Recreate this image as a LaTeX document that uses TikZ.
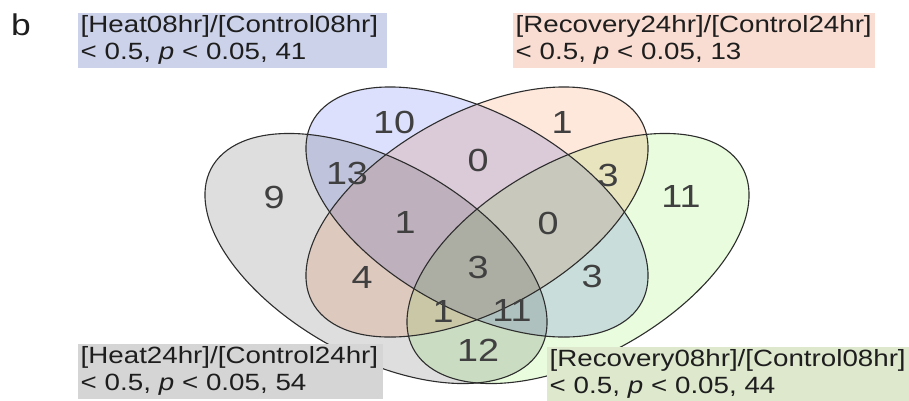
\documentclass[tikz,border=0pt]{standalone}
\usepackage{fontspec}
\setmainfont{Liberation Sans}[FakeStretch=1.18]
\definecolor{heatlate}{RGB}{222, 222, 222}
\definecolor{heatearly}{RGB}{220, 224, 252}
\definecolor{recovlate}{RGB}{254, 231, 219}
\definecolor{recovearly}{RGB}{233, 253, 222}
\definecolor{boxblue}{RGB}{204, 210, 233}
\definecolor{boxpeach}{RGB}{250, 221, 210}
\definecolor{boxgray}{RGB}{213, 213, 213}
\definecolor{boxgreen}{RGB}{221, 232, 205}
\definecolor{edgegray}{RGB}{45, 45, 45}
\definecolor{numgray}{RGB}{64, 64, 64}
\definecolor{inkblack}{RGB}{30, 30, 30}

\begin{document}
\begin{tikzpicture}[
  x=1pt, y=-1pt,
  setfill/.style={blend mode=multiply},
  setline/.style={draw=edgegray, line width=1.1pt},
  cnt/.style={font=\fontsize{32}{32}\selectfont, text=numgray, inner sep=0pt},
  lbl/.style={anchor=north west, align=left, inner xsep=2.5pt, inner ysep=2.75pt, font=\fontsize{23.5}{27}\selectfont, text=inkblack}
]
  \useasboundingbox (0,0) rectangle (909,400);

  % set fills
  \fill[heatlate, setfill, shift={(376,258.5)}, xscale=600, yscale=438.6, rotate=-45] (0,0) ellipse [x radius=0.35, y radius=0.2];
  \fill[heatearly, setfill, shift={(477,212)}, xscale=600, yscale=438.6, rotate=-45] (0,0) ellipse [x radius=0.35, y radius=0.2];
  \fill[recovlate, setfill, shift={(477,212)}, xscale=600, yscale=438.6, rotate=45] (0,0) ellipse [x radius=0.35, y radius=0.2];
  \fill[recovearly, setfill, shift={(578,258.5)}, xscale=600, yscale=438.6, rotate=45] (0,0) ellipse [x radius=0.35, y radius=0.2];

  % set outlines
  \draw[setline, shift={(376,258.5)}, xscale=600, yscale=438.6, rotate=-45] (0,0) ellipse [x radius=0.35, y radius=0.2];
  \draw[setline, shift={(477,212)}, xscale=600, yscale=438.6, rotate=-45] (0,0) ellipse [x radius=0.35, y radius=0.2];
  \draw[setline, shift={(477,212)}, xscale=600, yscale=438.6, rotate=45] (0,0) ellipse [x radius=0.35, y radius=0.2];
  \draw[setline, shift={(578,258.5)}, xscale=600, yscale=438.6, rotate=45] (0,0) ellipse [x radius=0.35, y radius=0.2];

  % region counts
  \node[cnt] (r9) at (274,197) {9};
  \node[cnt] (r10) at (394,122) {10};
  \node[cnt] (r13) at (347,173) {13};
  \node[cnt] (r0a) at (478,160) {0};
  \node[cnt] (r1a) at (562,122) {1};
  \node[cnt] (r3a) at (608,175) {3};
  \node[cnt] (r11a) at (681,196) {11};
  \node[cnt] (r1b) at (405,222) {1};
  \node[cnt] (r0b) at (548,223) {0};
  \node[cnt] (r4) at (362,277) {4};
  \node[cnt] (r3b) at (478,267) {3};
  \node[cnt] (r3c) at (592,276) {3};
  \node[cnt] (r1c) at (443,311) {1};
  \node[cnt] (r11b) at (512,310) {11};
  \node[cnt] (r12) at (478,350) {12};

  % set labels
  \node[font=\fontsize{30}{30}\selectfont, text=inkblack, anchor=base west, inner sep=0pt] (panel) at (11,35) {b};
  \node[lbl, fill=boxblue, text width=304pt] (heatearlylbl) at (78,13) {[Heat08hr]/[Control08hr]\\
    < 0.5, \textit{p} < 0.05, 41};
  \node[lbl, fill=boxpeach, text width=357pt] (recovlatelbl) at (513,13) {[Recovery24hr]/[Control24hr]\\
    < 0.5, \textit{p} < 0.05, 13};
  \node[lbl, fill=boxgray, text width=300pt] (heatlatelbl) at (78,344) {[Heat24hr]/[Control24hr]\\
    < 0.5, \textit{p} < 0.05, 54};
  \node[lbl, fill=boxgreen, text width=357pt] (recovearlylbl) at (547,347) {[Recovery08hr]/[Control08hr]\\
    < 0.5, \textit{p} < 0.05, 44};
\end{tikzpicture}
\end{document}
